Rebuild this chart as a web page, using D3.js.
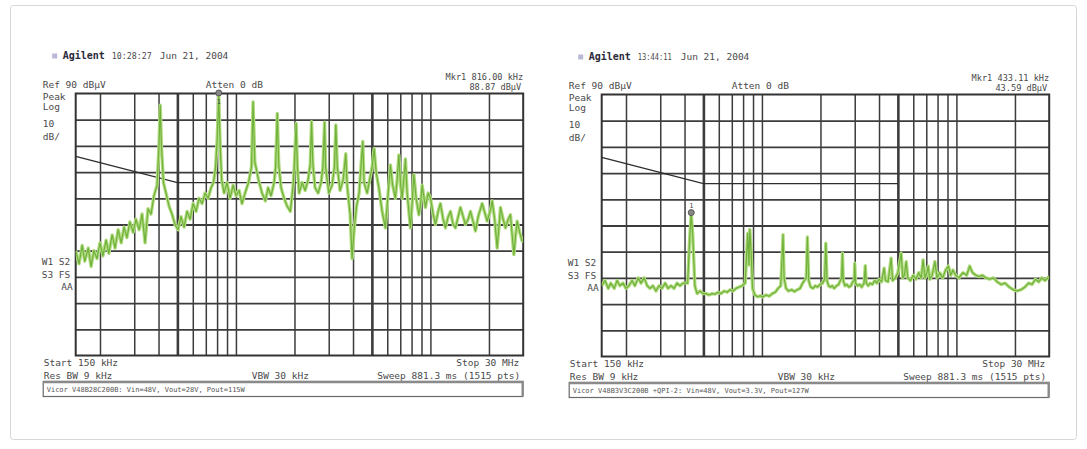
<!DOCTYPE html>
<html>
<head>
<meta charset="utf-8">
<script src="https://cdn.jsdelivr.net/npm/d3@7"></script>
<style>
  body { margin: 0; background: #fff; }
  text { font-family: "DejaVu Sans Mono", monospace; fill: #4a4a4a; }
</style>
</head>
<body>
<svg id="chart" width="1087" height="449"></svg>
<script>
// analyser settings (MHz, dBuV)
const startMHz = 0.15
const stopMHz = 30
const refLevel = 90
const dbPerDiv = 10
const gridFreqs = [0.2, 0.3, 0.4, 0.5, 0.6, 0.7, 0.8, 0.9, 1, 2, 3, 4, 5, 6, 7, 8, 9, 10, 20]
const boldFreqs = [0.5, 5]
const levels = [80, 70, 60, 50, 40, 30, 20, 10, 0]

// conducted emission limit line
const limitFreq = [0.15, 0.5, 5]
const limitDb = [66, 56, 56]

// left screen: without filter
const leftFreq = [0.150,0.156,0.162,0.167,0.174,0.180,0.186,0.193,0.200,0.207,0.215,0.222,0.231,0.239,0.248,0.257,0.266,0.275,0.285,0.296,0.306,0.318,0.329,0.341,0.353,0.366,0.379,0.393,0.402,0.408,0.414,0.424,0.437,0.453,0.469,0.486,0.504,0.522,0.541,0.561,0.581,0.602,0.624,0.646,0.670,0.694,0.719,0.745,0.767,0.786,0.800,0.816,0.830,0.845,0.869,0.900,0.933,0.967,1.002,1.038,1.075,1.114,1.161,1.203,1.225,1.250,1.307,1.362,1.417,1.463,1.516,1.571,1.600,1.632,1.660,1.707,1.769,1.833,1.905,1.968,1.995,2.040,2.070,2.113,2.189,2.268,2.350,2.410,2.448,2.487,2.553,2.646,2.741,2.800,2.856,2.890,3.004,3.123,3.210,3.264,3.320,3.432,3.557,3.672,3.730,3.864,3.957,4.052,4.173,4.299,4.488,4.561,4.727,4.898,5.016,5.136,5.259,5.430,5.646,5.871,6.062,6.229,6.393,6.608,6.744,6.881,7.029,7.155,7.310,7.441,7.592,7.893,8.055,8.220,8.445,8.720,8.909,9.068,9.431,9.737,10.01,10.33,10.62,10.96,11.26,11.63,11.95,12.34,12.68,13.09,13.46,13.89,14.27,14.74,15.14,15.63,16.07,16.59,17.05,17.60,18.45,19.12,19.58,20.29,20.78,21.40,22.04,22.57,22.92,23.66,24.33,25.11,25.80,26.33,26.87,27.44,27.93,28.77,29.64,30.0]
const leftDb = [30,25,32,26,31,24,30,27,33,28,34,29,36,31,38,33,39,35,41,37,42,38,44,33,46,44,51,55,70,85.5,70,56,52,47,44,40,38,43,39,45,42,48,45,50,48,52,50,54,56,62,72,88.9,70,57,52,56,50,55,51,53,48,52,56,62,86.8,64,57,52,49,54,51,56,62,82.4,63,54,50,47,45,55,62,78.6,62,52,56,53,57,63,79.2,63,54,52,56,62,79,62,52,55,62,78,62,53,57,67,55,44,27,38,47,52,71.7,56,52,58,62,69,60,54,45,38.7,52,62.7,55,50,57,66.5,55,50,58,65,52,38.7,48,59,50,43.7,48,55,46.5,52,50,44,40,45,48,42,38.7,43,45,40,38.7,43,46.5,43,40,42,45,41,37.5,43,48,44,41.3,45,49,42,31,40,46.5,42,38.7,42,43.7,36,28.5,36,41.3,37,33.7,34]

// right screen: with QPI filter
const rightFreq = [0.150,0.156,0.162,0.167,0.174,0.180,0.186,0.193,0.200,0.207,0.215,0.222,0.231,0.239,0.248,0.257,0.266,0.275,0.285,0.296,0.306,0.318,0.329,0.341,0.353,0.366,0.379,0.393,0.415,0.425,0.433,0.441,0.452,0.464,0.481,0.498,0.516,0.535,0.554,0.574,0.595,0.616,0.639,0.662,0.686,0.710,0.736,0.763,0.790,0.820,0.845,0.857,0.866,0.880,0.895,0.920,0.950,0.980,1.010,1.050,1.090,1.130,1.170,1.210,1.250,1.284,1.300,1.330,1.370,1.420,1.470,1.520,1.570,1.620,1.690,1.713,1.740,1.780,1.830,1.880,1.930,1.990,2.050,2.100,2.130,2.160,2.200,2.250,2.300,2.350,2.420,2.480,2.530,2.570,2.594,2.620,2.670,2.730,2.800,2.870,2.930,2.980,3.000,3.030,3.100,3.180,3.260,3.350,3.400,3.440,3.520,3.600,3.700,3.800,3.900,4.000,4.120,4.250,4.320,4.450,4.615,4.700,4.850,5.000,5.200,5.300,5.400,5.520,5.620,5.800,6.000,6.200,6.400,6.600,6.740,6.900,7.050,7.155,7.300,7.500,7.750,7.950,8.200,8.500,8.800,9.100,9.350,9.600,9.900,10.30,10.80,11.30,11.70,12.10,12.60,13.10,13.60,14.20,14.80,15.50,16.20,17.00,17.80,18.70,19.60,20.50,21.50,22.50,23.50,24.50,25.50,26.50,27.50,28.50,30.00]
const rightDb = [17,19,16,18,16,19,17,18,16,17,19,17,20,18,20,17,16,17,15,17,16,18,16,17,16,18,17,18,18,35,44.5,36,17,14,15,14,14,13.5,14,13.8,14.5,14,15,14.5,15.5,15,16,16.5,17,18,37,25,38.5,30,16,13.5,12.8,13.2,12.7,13.5,13,14,14.5,16,17,36.5,20,16,15,15.5,14.8,15.5,16,18,20,35.6,19,16.5,16,17,16.5,17.5,18,19.5,33.2,19,17,16.5,17,16,17,17.5,19,20,29.4,19,17,17.5,16.5,17,18.5,19,25.6,18,17,17.5,16.5,18,24.7,18,17,18,17.5,19,18,19.5,18.5,23.7,19,18.5,27.5,19,20,22,29.4,20,21,26.2,20,19,21,19.5,22,20,26.9,20,22,24.5,19.5,21,26.2,20,22,20,23,24.5,21,23,21,20,22,21,24.5,22,21,20.5,21,20,19.5,20,18.5,17.5,18,16.5,15.5,15,15.5,16.5,18,17.5,19.5,18.5,20,19,20.5]

const leftHeader = ['10:28:27', 'Jun 21, 2004']
const rightHeader = ['13:44:11', 'Jun 21, 2004']
const leftMarker = [0.816, 88.87]
const rightMarker = [0.43311, 43.59]
const leftNote = 'Vicor V48B28C200B: Vin=48V, Vout=28V, Pout=115W'
const rightNote = 'Vicor V48B3V3C200B +QPI-2: Vin=48V, Vout=3.3V, Pout=127W'

const PW = 447.5
const PH = 262

const panels = [
  { id: 'l', x: 75.7, y: 93.5, freq: leftFreq, db: leftDb, header: leftHeader, timeW: 40, dateDx: 84, marker: leftMarker, note: leftNote },
  { id: 'r', x: 601.7, y: 94.5, freq: rightFreq, db: rightDb, header: rightHeader, timeW: 34, dateDx: 79, marker: rightMarker, note: rightNote }
]

const svg = d3.select('#chart')

svg.append('rect')
  .attr('x', 10.5).attr('y', 5.5).attr('width', 1066).attr('height', 434).attr('rx', 3)
  .attr('fill', 'none').attr('stroke', '#d6d6d6')

panels.forEach(drawPanel)

function drawPanel (p) {
  const g = svg.append('g').attr('transform', `translate(${p.x},${p.y})`)
  const x = d3.scaleLog().domain([startMHz, stopMHz]).range([0, PW])
  const y = d3.scaleLinear().domain([refLevel, refLevel - dbPerDiv * 10]).range([0, PH])

  // vertical grid
  const vg = g.append('g')
    .call(d3.axisBottom(x).tickValues(gridFreqs).tickSize(PH).tickFormat(''))
  vg.select('.domain').remove()
  vg.selectAll('.tick line')
    .attr('stroke', '#3c3c3c')
    .attr('stroke-width', d => boldFreqs.includes(d) ? 2.6 : 1.5)

  // horizontal grid
  const hg = g.append('g')
    .call(d3.axisRight(y).tickValues(levels).tickSize(PW).tickFormat(''))
  hg.select('.domain').remove()
  hg.selectAll('.tick line').attr('stroke', '#3c3c3c').attr('stroke-width', 1.8)

  g.append('rect').attr('width', PW).attr('height', PH)
    .attr('fill', 'none').attr('stroke', '#333').attr('stroke-width', 2)

  // limit line
  const limit = d3.zip(limitFreq, limitDb)
  g.append('path').datum(limit)
    .attr('d', d3.line().x(d => x(d[0])).y(d => y(d[1])))
    .attr('fill', 'none').attr('stroke', '#2e2e2e').attr('stroke-width', 1.4)

  // trace
  g.append('clipPath').attr('id', 'clip-' + p.id)
    .append('rect').attr('width', PW).attr('height', PH)
  const trace = d3.zip(p.freq, p.db)
  const line = d3.line().x(d => x(d[0])).y(d => y(d[1]))
  const tg = g.append('g').attr('clip-path', `url(#clip-${p.id})`)
  tg.append('path').datum(trace).attr('d', line)
    .attr('fill', 'none').attr('stroke', '#b2dc80').attr('stroke-width', 3.4).attr('stroke-linejoin', 'round')
  tg.append('path').datum(trace).attr('d', line)
    .attr('fill', 'none').attr('stroke', '#70b13c').attr('stroke-width', 1.2).attr('stroke-linejoin', 'round')

  // marker
  const mx = x(p.marker[0])
  const my = y(p.marker[1])
  g.append('circle').attr('cx', mx).attr('cy', my - 3.5).attr('r', 3)
    .attr('fill', '#888').attr('stroke', '#555').attr('stroke-width', 1)
  g.append('text').attr('x', mx).attr('y', my < 20 ? my + 8 : my - 8).attr('text-anchor', 'middle')
    .attr('font-size', 7).text('1')

  // header
  g.append('rect').attr('x', -23.5).attr('y', -40).attr('width', 5).attr('height', 5).attr('fill', '#b9b9d6')
  g.append('text').attr('x', -13).attr('y', -34.5).attr('font-size', 10)
    .attr('font-family', 'DejaVu Sans').attr('font-weight', 'bold').style('fill', '#2a2a3a').text('Agilent')
  g.append('text').attr('x', 36).attr('y', -34.5).attr('font-size', 9)
    .attr('textLength', p.timeW).attr('lengthAdjust', 'spacingAndGlyphs').text(p.header[0])
  g.append('text').attr('x', p.dateDx).attr('y', -34.5).attr('font-size', 9.5).text(p.header[1])

  const fs = 9.5
  const label = (tx, ty, s, anchor, size) => g.append('text').attr('x', tx).attr('y', ty)
    .attr('font-size', size || fs).attr('text-anchor', anchor || 'start').text(s)

  label(PW, -14, `Mkr1 ${d3.format('.2f')(p.marker[0] * 1000)} kHz`, 'end', 8.6)
  label(PW - 2, -3.8, `${d3.format('.2f')(p.marker[1])} dBµV`, 'end', 8.6)
  label(-33, -6, `Ref ${refLevel} dBµV`)
  label(130, -6, 'Atten 0 dB')
  label(-33, 6.5, 'Peak')
  label(-33, 16.5, 'Log')
  label(-33, 33, '10')
  label(-33, 46, 'dB/')
  label(-34, 171, 'W1  S2')
  label(-34, 184, 'S3  FS')
  label(-3, 196, 'AA', 'end')

  label(-32, PH + 10, `Start ${startMHz * 1000} kHz`)
  label(PW - 4, PH + 10, `Stop ${stopMHz} MHz`, 'end')
  label(-32, PH + 23, 'Res BW 9 kHz')
  label(176, PH + 23, 'VBW 30 kHz')
  label(PW - 3, PH + 23, 'Sweep 881.3 ms (1515 pts)', 'end')

  // note box
  g.append('rect').attr('x', -32.5).attr('y', PH + 26).attr('width', PW + 32).attr('height', 15)
    .attr('fill', '#fff').attr('stroke', '#6a6a6a').attr('stroke-width', 1.2)
  g.append('path').attr('d', `M${-32.5},${PH + 26.5}H${PW - 0.5}V${PH + 41}`)
    .attr('fill', 'none').attr('stroke', '#8a8a8a').attr('stroke-width', 2.4)
  g.append('text').attr('x', -29).attr('y', PH + 36.5).attr('font-size', 7)
    .attr('font-family', 'DejaVu Sans Condensed').style('fill', '#555').text(p.note)
}
</script>
</body>
</html>
